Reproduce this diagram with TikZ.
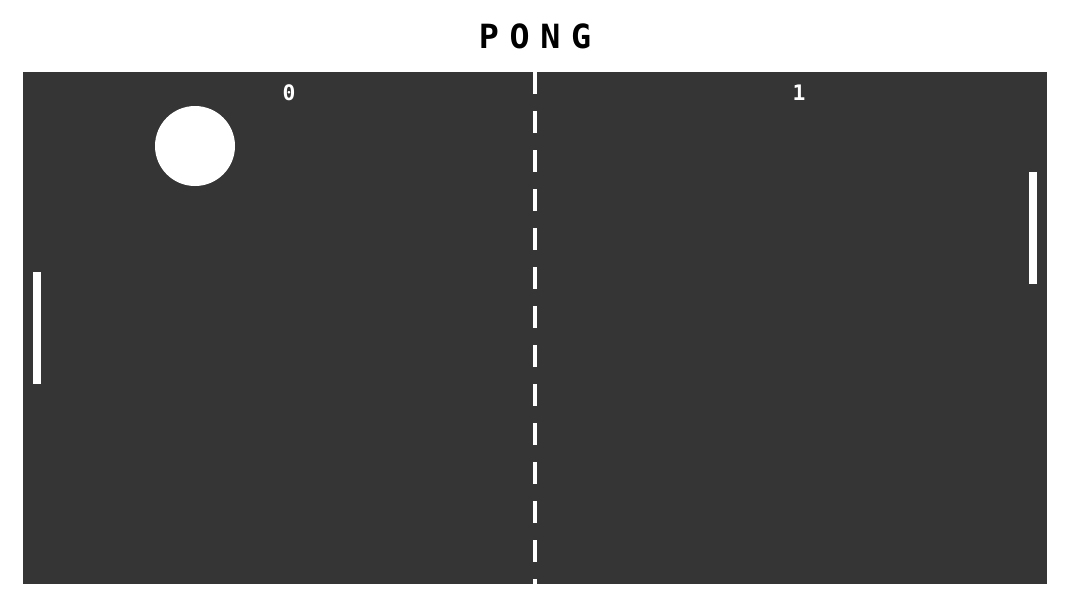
\documentclass[tikz,border=0pt]{standalone}
\usepackage{fontspec}
\newfontfamily\pongfont{DejaVu Sans Mono}
\usepackage{tikz}
\usetikzlibrary{positioning}
\usepackage{xcolor}
\definecolor{court}{RGB}{53,53,53}

\begin{document}
\begin{tikzpicture}[x=0.75pt, y=-0.75pt]
\tikzset{
every node/.style={inner sep=0pt, outer sep=0pt}, % no padding round the nodes
paddle/.style={rectangle, fill=white, minimum width=6pt, minimum height=84pt}, % the two bats
ball/.style={circle, fill=white, minimum size=60pt}, % the ball
score/.style={text=white, font=\pongfont\bfseries\fontsize{16}{16}\selectfont}, % the scores
net/.style={white, line width=3pt, line cap=butt, dash pattern=on 16.5pt off 12.75pt}, % the dashed net
}
	\useasboundingbox (0,0) rectangle (1071,608);
	\node[fill=court, minimum width=768pt, minimum height=384pt] (field) at (535,328) {};
	\node[font=\pongfont\bfseries\fontsize{25}{25}\selectfont] (title) at (535,36) {P\hspace{8pt}O\hspace{8pt}N\hspace{8pt}G};
	\node[score] (s1) at (289,93) {0};
	\node[score] (s2) at (799,93) {1};
	\node[ball] (b) at (195,146) {};
	\node[paddle] (p1) at (37,328) {};
	\node[paddle] (p2) at (1033,228) {};
	
	\draw[net] (field.north) -- (field.south);
\end{tikzpicture}
\end{document}
